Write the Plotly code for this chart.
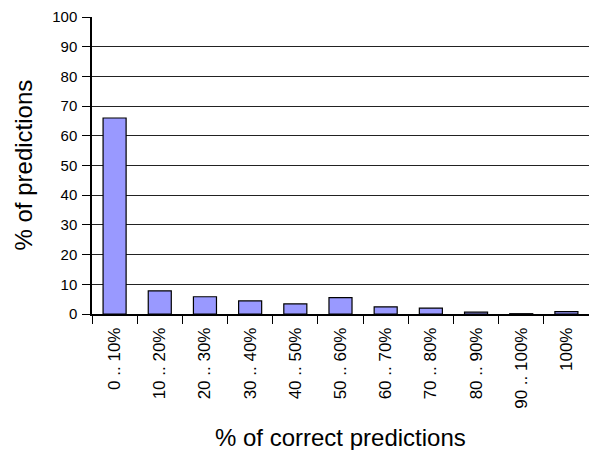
import plotly.graph_objects as go

categories = ["0 .. 10%", "10 .. 20%", "20 .. 30%", "30 .. 40%", "40 .. 50%",
              "50 .. 60%", "60 .. 70%", "70 .. 80%", "80 .. 90%", "90 .. 100%", "100%"]
values = [66.0, 7.8, 5.8, 4.4, 3.4, 5.5, 2.4, 2.0, 0.6, 0.1, 0.8]
y_ticks = [0, 10, 20, 30, 40, 50, 60, 70, 80, 90, 100]

font_family = "Liberation Sans, Arial, sans-serif"

fig = go.Figure(go.Bar(
    x=categories, y=values,
    marker=dict(color="#9999FF", line=dict(color="#000000", width=1.2)),
    width=0.51,
))

fig.update_layout(
    width=589, height=450,
    margin=dict(l=92, r=0, t=17, b=136),
    paper_bgcolor="white", plot_bgcolor="white",
    font=dict(family=font_family, color="black"),
    showlegend=False,
    bargap=0.49,
)
fig.update_xaxes(
    type="category",
    automargin=False,
    tickangle=-90,
    tickfont=dict(size=17),
    tickson="boundaries",
    ticks="outside", ticklen=8, tickcolor="black",
    ticklabelstandoff=5,
    showline=True, linecolor="black", linewidth=1.5,
    showgrid=False,
)
fig.update_yaxes(
    automargin=False,
    range=[0, 100],
    tickvals=y_ticks,
    tickfont=dict(size=15),
    ticks="outside", ticklen=8, tickcolor="black",
    ticklabelstandoff=2,
    showline=True, linecolor="black", linewidth=1.5,
    showgrid=True, gridcolor="#222222", gridwidth=1,
    zeroline=False,
)
fig.add_annotation(
    text="% of predictions", textangle=-90,
    xref="paper", yref="paper", x=0, y=0.5,
    xanchor="center", yanchor="middle", xshift=-69,
    showarrow=False, font=dict(size=24),
)
fig.add_annotation(
    text="% of correct predictions",
    xref="paper", yref="paper", x=0.5, y=0,
    xanchor="center", yanchor="middle", yshift=-123,
    showarrow=False, font=dict(size=24),
)

fig.write_html(
    "out.html",
    config={"displayModeBar": False},
    post_script="document.body.style.margin='0';document.body.style.overflow='hidden';",
)
